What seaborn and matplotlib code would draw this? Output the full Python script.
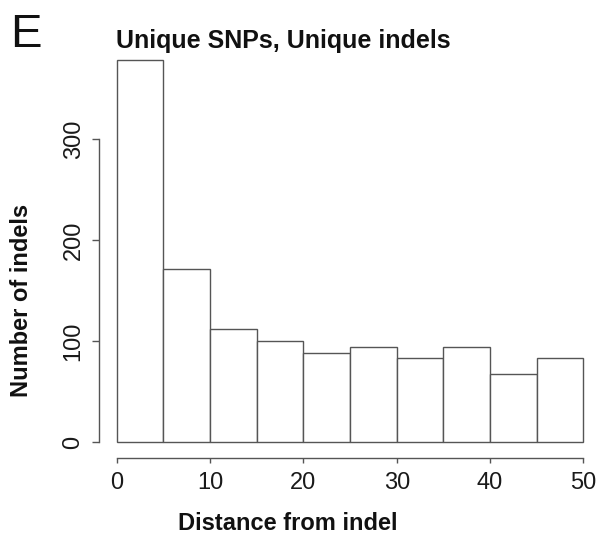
import matplotlib
matplotlib.use("Agg")
import matplotlib.pyplot as plt
import seaborn as sns
import numpy as np

# Data
bin_edges = [0, 5, 10, 15, 20, 25, 30, 35, 40, 45, 50]
counts = [378, 171, 112, 100, 88, 94, 83, 94, 67, 83]
x_ticks = [0, 10, 20, 30, 40, 50]
y_ticks = [0, 100, 200, 300]

sns.set_style("white")
plt.rcParams['font.family'] = ['Liberation Sans', 'DejaVu Sans']

W, H = 600, 545
fig = plt.figure(figsize=(W / 100, H / 100), dpi=100)
ax_left, ax_right, ax_bottom, ax_top = 98.5, 600.0, 458.3, 40.0
ax = fig.add_axes([ax_left / W, (H - ax_bottom) / H,
                   (ax_right - ax_left) / W, (ax_bottom - ax_top) / H])

centers = [(bin_edges[i] + bin_edges[i + 1]) / 2 for i in range(len(counts))]
sns.histplot(x=centers, weights=counts, bins=bin_edges, ax=ax,
             color="white", edgecolor="#555555", linewidth=1.0, alpha=1.0)

ax.set_xlim(-1.95, 51.78)
ax.set_ylim(-16.1, 398)

for s in ["top", "right"]:
    ax.spines[s].set_visible(False)
for s in ["left", "bottom"]:
    ax.spines[s].set_color("#555555")
    ax.spines[s].set_linewidth(1.0)
ax.spines["left"].set_bounds(0, 300)
ax.spines["bottom"].set_bounds(0, 50)

ax.set_xticks(x_ticks)
ax.set_yticks(y_ticks)
ax.set_xticklabels([str(v) for v in x_ticks])
ax.set_yticklabels([str(v) for v in y_ticks], rotation=90, va="center")
ax.tick_params(axis="both", which="major", width=1.0,
               color="#555555", labelsize=17, labelcolor="#1a1a1a",
               bottom=True, left=True)
ax.tick_params(axis="x", length=3.8, pad=6)
ax.tick_params(axis="y", length=5, pad=5)
ax.set_xlabel("")
ax.set_ylabel("")

fig.text(288 / W, 1 - 524 / H, "Distance from indel", ha="center", va="center",
         fontsize=17, fontweight="bold", color="#111111")
fig.text(22 / W, 1 - 300 / H, "Number of indels", ha="center", va="center",
         rotation=90, fontsize=17, fontweight="bold", color="#111111")
fig.text(283 / W, 1 - 41 / H, "Unique SNPs, Unique indels", ha="center", va="center",
         fontsize=18, fontweight="bold", color="#111111")
fig.text(26 / W, 1 - 35 / H, "E", ha="center", va="center",
         fontsize=34, color="#111111")

fig.savefig("out.png", dpi=100)
